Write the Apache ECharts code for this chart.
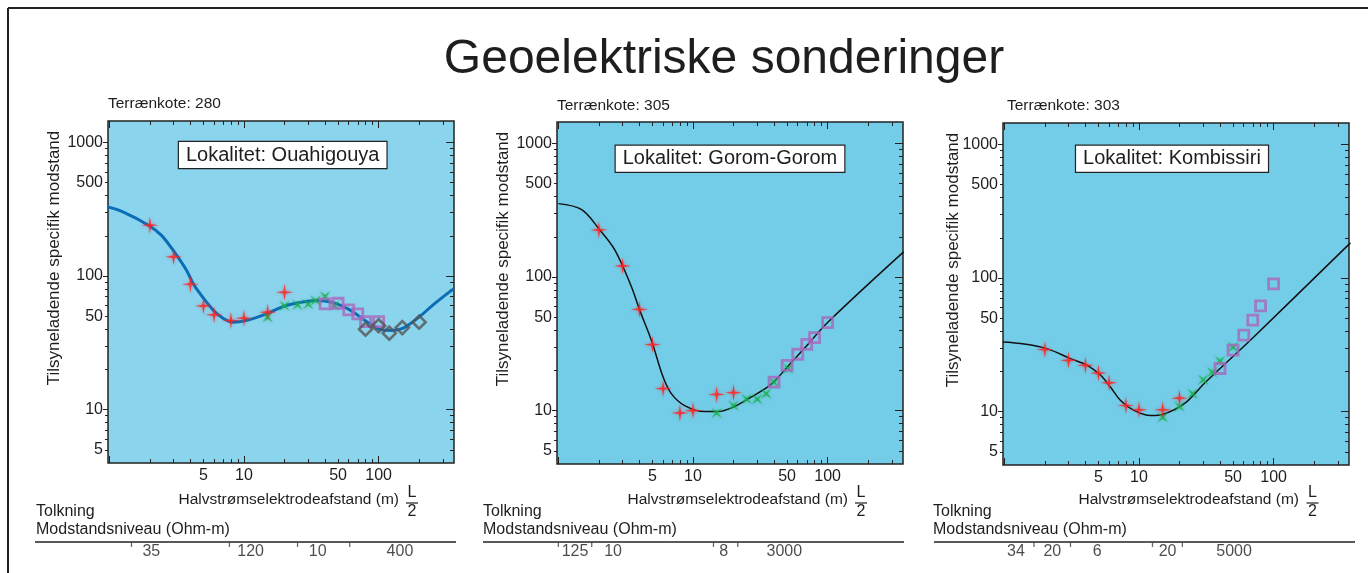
<!DOCTYPE html>
<html><head><meta charset="utf-8">
<script src="https://cdn.jsdelivr.net/npm/echarts@6/dist/echarts.min.js"></script>
<style>html,body{margin:0;padding:0;background:#fff}#c{width:1368px;height:573px}</style>
</head><body><div id="c"></div>
<script>
// ---------- tick values ----------
const xTickMajor = [1, 10, 100];
const xTickMinor = [2,3,4,5,6,7,8,9,20,30,40,50,60,70,80,90,200,300];
const xTickLabels = [5, 10, 50, 100];
const yTickMajor = [10, 100, 1000];
const yTickMinor = [5,6,7,8,9,20,30,40,50,60,70,80,90,200,300,400,500,600,700,800,900];
const yTickLabels = [5, 10, 50, 100, 500, 1000];

// ---------- Panel 1: Ouahigouya ----------
const p1Curve = [[0.97,329],[1.26,302],[1.95,240],[2.43,202],[2.97,156],[3.73,111],[4.18,88.3],[4.69,74.3],[5.89,55.7],[6.99,48.3],[8.28,45.1],[10.4,46.4],[14.7,52.0],[19.5,59.0],[25.9,63.2],[34.5,65.5],[45.9,63.2],[61.1,55.7],[81.3,45.6],[102,40.0],[121,39.1],[152,40.7],[202,49.7],[254,60.8],[338,76.4],[362,80.0]];
const p1Red = [[2,240],[3,139],[4,86.7],[5,59.7],[6,51.2],[8,46.4],[10,48.3],[15,53.6],[20,75.5]];
const p1Green = [[15,49.2],[20,59.7],[25,60.8],[30,61.5],[34,65.5],[40,70.2],[47,60]];
const p1Square = [[40,61.8],[50,62.5],[60,55.7],[70,52],[80,45.6],[100,45.6]];
const p1Diamond = [[80,40],[100,42.4],[120,37.3],[150,41.1],[200,45.1]];
const p1Bounds = [1.46, 7.8, 25, 61];
const p1LayerRes = ['35', '120', '10', '400'];
const p1LayerPos = [2.05, 11.2, 35.3, 144];

// ---------- Panel 2: Gorom-Gorom ----------
const p2Curve = [[1.0,354],[1.49,319],[2.03,225],[2.62,160],[3.49,84.5],[4,57.2],[4.91,33.6],[6.0,17.8],[6.9,13.4],[8.67,10.9],[12.2,9.83],[15.3,9.83],[20.3,10.7],[27,12.6],[38,15.7],[50.6,21.4],[67,29.1],[100,45.6],[367,154]];
const p2Red = [[2,225],[3,121],[4,57.2],[5,31.2],[6,14.6],[8,9.6],[10,10],[15,13.2],[20,13.6]];
const p2Green = [[15,9.6],[20,10.9],[25,12.2],[30,12.2],[35,13.4],[40,16.3],[51,20.6]];
const p2Square = [[40,16.3],[50,21.8],[60,26.4],[70,31.3],[80,35.2],[100,45.6]];
const p2Diamond = [];
const p2Bounds = [1.0, 1.77, 14.2, 21.5];
const p2LayerRes = ['125', '10', '8', '3000'];
const p2LayerPos = [1.33, 2.55, 16.9, 47.7];

// ---------- Panel 3: Kombissiri ----------
const p3Curve = [[0.98,33.2],[1.32,32.3],[2.06,29.6],[3.1,24.9],[4.13,22.2],[5.19,18.7],[6.15,15.2],[7.3,12.1],[9.18,10.2],[12.2,9.33],[15.4,9.6],[21.6,11.4],[30.5,16.2],[40.6,21.3],[71.8,36.5],[372,183]];
const p3Red = [[2,29.1],[3,24.2],[4,22.2],[5,19.4],[6,16.4],[8,11.1],[10,10.3],[15,10.3],[20,12.6]];
const p3Green = [[15,9.06],[20,10.9],[25,13.6],[30,17.3],[35,19.7],[40,23.9],[50,30.4]];
const p3Square = [[40,21],[50,28.8],[60,37.3],[70,48.3],[80,61.9],[100,90.2]];
const p3Diamond = [];
const p3Bounds = [1.66, 3.1, 12.6, 21];
const p3LayerRes = ['34', '20', '6', '20', '5000'];
const p3LayerPos = [1.22, 2.27, 4.9, 16.3, 50.9];

// ---------- texts ----------
const mainTitle = 'Geoelektriske sonderinger';
const yName = 'Tilsyneladende specifik modstand';
const xName = 'Halvstrømselektrodeafstand (m)';
const terrTexts = ['Terrænkote: 280', 'Terrænkote: 305', 'Terrænkote: 303'];
const locTexts = ['Lokalitet: Ouahigouya', 'Lokalitet: Gorom-Gorom', 'Lokalitet: Kombissiri'];

// ---------- layout / style ----------
const FONT = "'Liberation Sans', Arial, Helvetica, sans-serif";
const TXT = '#1e1e1e';
const XMIN = -0.01, XMAX = 2.56, YMIN = 0.6, YMAX = 3.16;
const W = 346, H = 342;
const layout = [
  {left:108, top:121, bg:'#8AD4EE', line:'#0B6DB6', lw:3, terrX:108, terrY:103.5, locX:282.7, locY:155, nameX:54, nameY:258, xnameR:399, lx:412, tolkX:36, bandL:35, bandR:456},
  {left:557, top:122, bg:'#73CDE8', line:'#111111', lw:1.5, terrX:557, terrY:105.5, locX:730, locY:158.7, nameX:503.5, nameY:259, xnameR:848, lx:861, tolkX:483, bandL:483, bandR:904},
  {left:1003, top:123, bg:'#73CDE8', line:'#111111', lw:1.5, terrX:1007, terrY:105.5, locX:1172, locY:158.7, nameX:953.5, nameY:260, xnameR:1299, lx:1312.5, tolkX:933, bandL:934, bandR:1355}
];
const panelData = [
  {curve:p1Curve, red:p1Red, green:p1Green, square:p1Square, diamond:p1Diamond, bounds:p1Bounds, res:p1LayerRes, pos:p1LayerPos},
  {curve:p2Curve, red:p2Red, green:p2Green, square:p2Square, diamond:p2Diamond, bounds:p2Bounds, res:p2LayerRes, pos:p2LayerPos},
  {curve:p3Curve, red:p3Red, green:p3Green, square:p3Square, diamond:p3Diamond, bounds:p3Bounds, res:p3LayerRes, pos:p3LayerPos}
];

const L = v => Math.log10(v);
const tr = arr => arr.map(p => [L(p[0]), L(p[1])]);
const fmt = v => String(Math.round(Math.pow(10, v)));
const STAR = 'path://M0,-10 L1.3,-1.3 L10,0 L1.3,1.3 L0,10 L-1.3,1.3 L-10,0 L-1.3,-1.3 Z';

const grids = [], xAxes = [], yAxes = [], series = [], graphics = [];

function axis(kind, g, pos, ticks, len, inside, labels) {
  return {
    type:'value', gridIndex:g, position:pos,
    min: kind === 'x' ? XMIN : YMIN, max: kind === 'x' ? XMAX : YMAX,
    axisLine:{show:false, onZero:false}, splitLine:{show:false},
    axisTick:{show:true, inside:inside, length:len, customValues:ticks.map(L), lineStyle:{color:'#222', width:1}},
    axisLabel: labels ? {show:true, customValues:labels.map(L), formatter:fmt, color:TXT, fontSize:16, fontFamily:FONT, margin:5} : {show:false}
  };
}

layout.forEach((lay, p) => {
  const d = panelData[p];
  const g = grids.length;
  grids.push({left:lay.left, top:lay.top, width:W, height:H, show:true, backgroundColor:lay.bg, borderColor:'#222', borderWidth:1.5});
  const xi = xAxes.length, yi = yAxes.length;
  xAxes.push(axis('x', g, 'bottom', xTickMajor, 7, true, xTickLabels));
  xAxes.push(axis('x', g, 'bottom', xTickMinor, 4, true, null));
  xAxes.push(axis('x', g, 'top', xTickMajor, 7, true, null));
  xAxes.push(axis('x', g, 'top', xTickMinor, 4, true, null));
  yAxes.push(axis('y', g, 'left', yTickMajor, 5, false, yTickLabels));
  yAxes.push(axis('y', g, 'left', yTickMinor, 3, false, null));
  yAxes.push(axis('y', g, 'right', yTickMajor, 8, true, null));
  yAxes.push(axis('y', g, 'right', yTickMinor, 4, true, null));

  series.push({type:'line', xAxisIndex:xi, yAxisIndex:yi, data:tr(d.curve), smooth:0.35, showSymbol:false, silent:true,
    lineStyle:{color:lay.line, width:lay.lw}, z:2});
  series.push({type:'scatter', xAxisIndex:xi, yAxisIndex:yi, data:tr(d.green), symbol:STAR, symbolSize:15, symbolRotate:45,
    itemStyle:{color:'#19B04B', shadowBlur:3, shadowColor:'rgba(25,176,75,0.7)'}, z:3});
  series.push({type:'scatter', xAxisIndex:xi, yAxisIndex:yi, data:tr(d.red), symbol:STAR, symbolSize:17,
    itemStyle:{color:'#FF2020', shadowBlur:3, shadowColor:'rgba(255,32,32,0.7)'}, z:4});
  series.push({type:'scatter', xAxisIndex:xi, yAxisIndex:yi, data:tr(d.square), symbol:'rect', symbolSize:10,
    itemStyle:{color:'rgba(0,0,0,0)', borderColor:'#A966BC', borderWidth:2.8}, z:5});
  if (d.diamond.length) series.push({type:'scatter', xAxisIndex:xi, yAxisIndex:yi, data:tr(d.diamond), symbol:'diamond', symbolSize:13,
    itemStyle:{color:'rgba(0,0,0,0)', borderColor:'#555555', borderWidth:2.6}, z:6});

  // interpretation band
  const bg = grids.length;
  grids.push({left:lay.left, top:542, width:W, height:20, show:false});
  const bxi = xAxes.length, byi = yAxes.length;
  xAxes.push({type:'value', gridIndex:bg, min:XMIN, max:XMAX, show:false, axisLine:{onZero:false}});
  yAxes.push({type:'value', gridIndex:bg, min:0, max:20, inverse:true, show:false, axisLine:{onZero:false}});
  series.push({type:'scatter', xAxisIndex:bxi, yAxisIndex:byi, silent:true, clip:false,
    data:d.bounds.map(b => [L(b), 2.5]), symbol:'rect', symbolSize:[1.3,5], itemStyle:{color:'#444'}});
  series.push({type:'scatter', xAxisIndex:bxi, yAxisIndex:byi, silent:true, clip:false,
    data:d.pos.map((x,i) => ({value:[L(x), 10], label:{formatter:d.res[i]}})),
    symbolSize:1, itemStyle:{color:'rgba(0,0,0,0)'},
    label:{show:true, position:'inside', color:TXT, fontSize:16, fontFamily:FONT}});

  // texts
  const tf = (s) => s + 'px ' + FONT;
  graphics.push({type:'text', x:lay.terrX, y:lay.terrY, style:{text:terrTexts[p], font:tf(15.5), fill:TXT, textAlign:'left', textVerticalAlign:'middle'}});
  graphics.push({type:'text', x:lay.locX, y:lay.locY, z:50, style:{text:locTexts[p], font:tf(20), fill:TXT, textAlign:'center', textVerticalAlign:'middle',
    backgroundColor:'#fff', borderColor:'#222', borderWidth:1.2, padding:[3,7,3,7]}});
  graphics.push({type:'text', x:lay.nameX, y:lay.nameY, rotation:Math.PI/2, style:{text:yName, font:tf(17), fill:TXT, textAlign:'center', textVerticalAlign:'middle'}});
  graphics.push({type:'text', x:lay.xnameR, y:500, style:{text:xName, font:tf(15.5), fill:TXT, textAlign:'right', textVerticalAlign:'middle'}});
  graphics.push({type:'text', x:lay.lx, y:493, style:{text:'L', font:tf(16), fill:TXT, textAlign:'center', textVerticalAlign:'middle'}});
  graphics.push({type:'text', x:lay.lx, y:512, style:{text:'2', font:tf(16), fill:TXT, textAlign:'center', textVerticalAlign:'middle'}});
  graphics.push({type:'line', shape:{x1:lay.lx-6, y1:503, x2:lay.lx+6, y2:503}, style:{stroke:TXT, lineWidth:1.2}});
  graphics.push({type:'text', x:lay.tolkX, y:511.5, style:{text:'Tolkning', font:tf(16), fill:TXT, textAlign:'left', textVerticalAlign:'middle'}});
  graphics.push({type:'text', x:lay.tolkX, y:530, style:{text:'Modstandsniveau (Ohm-m)', font:tf(16), fill:TXT, textAlign:'left', textVerticalAlign:'middle'}});
  graphics.push({type:'line', shape:{x1:lay.bandL, y1:542, x2:lay.bandR, y2:542}, style:{stroke:'#222', lineWidth:1.5}});
});

graphics.push({type:'text', x:724, y:60, style:{text:mainTitle, font:'48px ' + FONT, fill:TXT, textAlign:'center', textVerticalAlign:'middle'}});
graphics.push({type:'line', shape:{x1:8, y1:8, x2:1368, y2:8}, style:{stroke:'#222', lineWidth:2}});
graphics.push({type:'line', shape:{x1:8, y1:8, x2:8, y2:573}, style:{stroke:'#222', lineWidth:2}});

const chart = echarts.init(document.getElementById('c'), null, {renderer:'canvas'});
chart.setOption({
  animation:false,
  backgroundColor:'#ffffff',
  grid:grids, xAxis:xAxes, yAxis:yAxes, series:series, graphic:graphics
});
</script></body></html>
